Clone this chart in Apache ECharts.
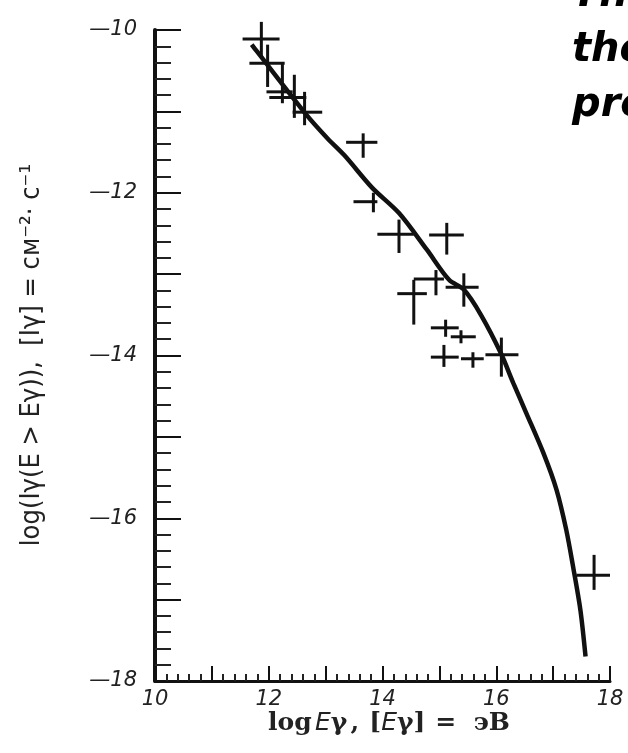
<!DOCTYPE html>
<html>
<head>
<meta charset="utf-8">
<script src="https://cdn.jsdelivr.net/npm/echarts@6/dist/echarts.min.js"></script>
<style>
  html, body { margin: 0; padding: 0; background: #fff; }
  #chart { width: 628px; height: 753px; }
</style>
</head>
<body>
<div id="chart"></div>
<script>
// measured points with error bars: log E, log I, and the bar ends
const pointX = [11.87, 11.98, 12.24, 12.45, 12.63, 13.66, 13.84, 14.29, 15.13, 14.55, 14.94, 15.43, 15.11, 15.38, 15.08, 15.59, 16.09, 17.72];
const pointY = [-10.11, -10.41, -10.76, -10.83, -11.01, -11.38, -12.11, -12.51, -12.52, -13.24, -13.06, -13.16, -13.66, -13.77, -14.02, -14.04, -13.99, -16.70];
const xLow = [11.54, 11.66, 11.96, 12.01, 12.42, 13.36, 13.49, 13.91, 14.82, 14.26, 14.55, 15.11, 14.85, 15.20, 14.85, 15.38, 15.81, 17.41];
const xHigh = [12.19, 12.28, 12.42, 12.66, 12.94, 13.91, 13.91, 14.55, 15.43, 14.78, 15.08, 15.69, 15.34, 15.64, 15.34, 15.78, 16.39, 18.00];
const yLow = [-10.32, -10.70, -10.90, -11.08, -11.17, -11.57, -12.24, -12.74, -12.76, -13.62, -13.26, -13.40, -13.77, -13.85, -14.14, -14.15, -14.26, -16.88];
const yHigh = [-9.90, -10.18, -10.41, -10.55, -10.76, -11.27, -12.00, -12.33, -12.37, -13.07, -12.95, -12.99, -13.56, -13.69, -13.87, -13.96, -13.78, -16.45];

// fitted spectrum curve
const curveX = [11.70, 11.80, 12.66, 13.03, 13.33, 13.82, 14.29, 14.78, 15.17, 15.43, 15.73, 16.08, 16.30, 16.53, 16.83, 17.06, 17.23, 17.36, 17.48, 17.57];
const curveY = [-10.18, -10.27, -11.04, -11.33, -11.54, -11.94, -12.25, -12.70, -13.07, -13.19, -13.50, -13.97, -14.34, -14.71, -15.20, -15.65, -16.14, -16.63, -17.13, -17.70];

const labelFont = '"DejaVu Sans", sans-serif';

const chart = echarts.init(document.getElementById('chart'));

const crossData = pointX.map((x, i) => [x, pointY[i], xLow[i], xHigh[i], yLow[i], yHigh[i]]);
const curveData = curveX.map((x, i) => [x, curveY[i]]);

const option = {
  backgroundColor: '#ffffff',
  animation: false,
  grid: {
    left: 155,
    top: 30,
    width: 455,
    height: 651,
  },
  xAxis: {
    type: 'value',
    min: 10,
    max: 18,
    interval: 1,
    axisLine: { lineStyle: { color: '#111', width: 3 } },
    axisTick: { inside: true, length: 15, lineStyle: { color: '#111', width: 2 } },
    minorTick: { show: true, splitNumber: 5, length: 7, lineStyle: { color: '#222', width: 2 } },
    splitLine: { show: false },
    axisLabel: {
      margin: 8,
      fontSize: 21,
      fontStyle: 'italic',
      fontFamily: labelFont,
      color: '#222',
      formatter(v) {
        return v % 2 === 0 ? String(v) : '';
      },
    },
  },
  yAxis: {
    type: 'value',
    min: -18,
    max: -10,
    interval: 1,
    axisLine: { lineStyle: { color: '#111', width: 4 } },
    axisTick: { inside: true, length: 26, lineStyle: { color: '#111', width: 2 } },
    minorTick: { show: true, splitNumber: 5, length: 16, lineStyle: { color: '#222', width: 2 } },
    splitLine: { show: false },
    axisLabel: {
      margin: 18,
      fontSize: 21,
      fontStyle: 'italic',
      fontFamily: labelFont,
      color: '#222',
      formatter(v) {
        return v % 2 === 0 ? '\u2014' + String(-v) : '';
      },
    },
  },
  series: [
    {
      type: 'line',
      data: curveData,
      smooth: 0.3,
      symbol: 'none',
      lineStyle: { color: '#111', width: 4.5 },
      z: 3,
    },
    {
      type: 'custom',
      clip: false,
      data: crossData,
      encode: { x: [0, 2, 3], y: [1, 4, 5] },
      renderItem(params, api) {
        const c = api.coord([api.value(0), api.value(1)]);
        const l = api.coord([api.value(2), api.value(1)]);
        const r = api.coord([api.value(3), api.value(1)]);
        const b = api.coord([api.value(0), api.value(4)]);
        const t = api.coord([api.value(0), api.value(5)]);
        const style = { stroke: '#111', lineWidth: 3 };
        return {
          type: 'group',
          children: [
            { type: 'line', shape: { x1: l[0], y1: c[1], x2: r[0], y2: c[1] }, style },
            { type: 'line', shape: { x1: c[0], y1: b[1], x2: c[0], y2: t[1] }, style },
          ],
        };
      },
      z: 4,
    },
  ],
  graphic: [
    {
      type: 'text',
      x: 32,
      y: 355,
      rotation: Math.PI / 2,
      style: {
        text: 'log(I\u03b3(E > E\u03b3)),  [I\u03b3] = см\u207b\u00b2\u00b7 с\u207b\u00b9',
        font: '27px "DejaVu Sans Condensed", "DejaVu Sans", sans-serif',
        fill: '#222',
        textAlign: 'center',
        textVerticalAlign: 'middle',
      },
    },
    {
      type: 'text',
      x: 389,
      y: 723,
      style: {
        text: '{b|log} {i|E}{b|\u03b3} {b|,}   {b|[}{i|E}{b|\u03b3]}   {b|=  эВ}',
        rich: {
          b: { font: 'bold 25px "DejaVu Serif", serif', fill: '#222' },
          i: { font: 'italic 25px "DejaVu Sans", sans-serif', fill: '#222' },
        },
        textAlign: 'center',
        textVerticalAlign: 'middle',
      },
    },
    {
      type: 'text',
      x: 572,
      y: -32,
      style: {
        text: 'The\nthe\npro',
        font: 'italic bold 40px "DejaVu Sans", sans-serif',
        lineHeight: 55,
        fill: '#000',
        textVerticalAlign: 'top',
      },
    },
  ],
};

chart.setOption(option);
</script>
</body>
</html>
